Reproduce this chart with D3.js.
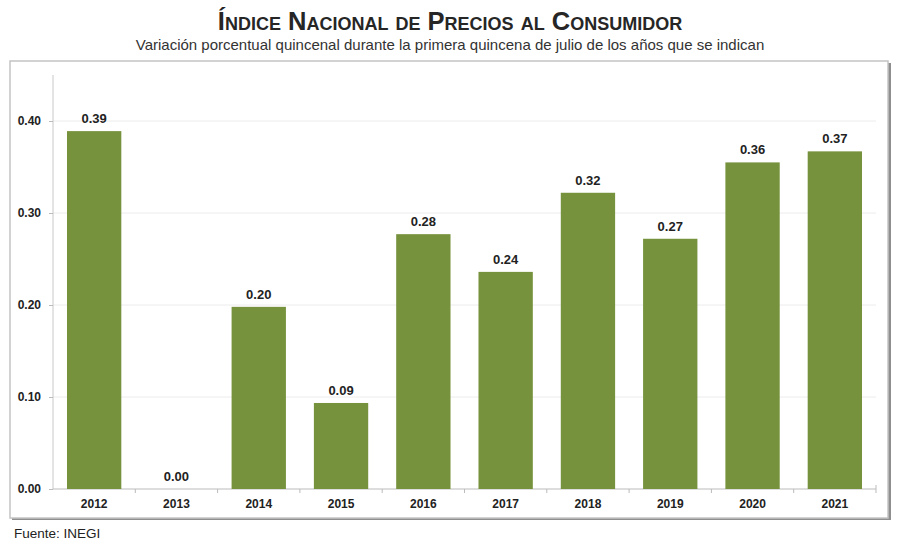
<!DOCTYPE html>
<html><head><meta charset="utf-8">
<script src="https://cdn.jsdelivr.net/npm/d3@7"></script>
<style>body{margin:0;background:#fff;font-family:"Liberation Sans",Arial,sans-serif;}</style>
</head><body><svg id="c" width="900" height="549"></svg>
<script>
const years = ["2012","2013","2014","2015","2016","2017","2018","2019","2020","2021"];
const values = [0.39,0.00,0.20,0.09,0.28,0.24,0.32,0.27,0.36,0.37];
const heights = [0.389,0.0,0.198,0.0935,0.277,0.236,0.322,0.272,0.355,0.367];
const yTicks = [0,0.1,0.2,0.3,0.4];

const svg = d3.select("#c");
const W=900,H=549;
svg.append("rect").attr("width",W).attr("height",H).attr("fill","#fff");

// frame with shadow
svg.append("rect").attr("x",12).attr("y",63).attr("width",879).attr("height",457).attr("fill","#8f8f8f");
svg.append("rect").attr("x",10).attr("y",61).attr("width",878).attr("height",457).attr("fill","#fff").attr("stroke","#c4c4c4").attr("stroke-width",1.5);

const x = d3.scaleBand().domain(years).range([53,876]).paddingInner(0.34).paddingOuter(0.17);
const y = d3.scaleLinear().domain([0,0.45]).range([489,75]);

// gridlines
svg.append("g").selectAll("line").data(yTicks.filter(d=>d>0)).join("line")
  .attr("x1",53).attr("x2",876).attr("y1",d=>y(d)).attr("y2",d=>y(d))
  .attr("stroke","#ececec").attr("stroke-width",1);

// y axis
const ya = svg.append("g").attr("transform","translate(53,0)")
  .call(d3.axisLeft(y).tickValues(yTicks).tickFormat(d3.format(".2f")).tickSize(4).tickPadding(8));
ya.select(".domain").attr("stroke","#c8c8c8").attr("d","M0,75V489");
ya.selectAll(".tick line").attr("stroke","#bbb");
ya.selectAll("text").attr("font-family","Liberation Sans, Arial").attr("font-size",12).attr("font-weight","bold").attr("fill","#222");

// x axis
const xa = svg.append("g").attr("transform","translate(0,489)")
  .call(d3.axisBottom(x).tickSize(0).tickPadding(8));
xa.select(".domain").attr("stroke","#bbb").attr("d","M53,0H876");
xa.selectAll("text").attr("font-family","Liberation Sans, Arial").attr("font-size",12).attr("font-weight","bold").attr("fill","#222").attr("dy","0.9em");
// category separator ticks
const step = x.step();
const seps = years.slice(1).map(d=>x(d)-x.paddingInner()*step/2);
svg.append("g").selectAll("line").data(seps).join("line")
  .attr("x1",d=>d).attr("x2",d=>d)
  .attr("y1",489).attr("y2",493).attr("stroke","#bbb");
svg.append("line").attr("x1",876).attr("x2",876).attr("y1",485).attr("y2",493).attr("stroke","#bbb");

// bars
svg.append("g").selectAll("rect").data(years).join("rect")
  .attr("x",d=>x(d)).attr("width",x.bandwidth())
  .attr("y",(d,i)=>y(heights[i])).attr("height",(d,i)=>y(0)-y(heights[i]))
  .attr("fill","#76923c");

// labels
svg.append("g").selectAll("text").data(years).join("text")
  .attr("x",d=>x(d)+x.bandwidth()/2).attr("y",(d,i)=>y(heights[i])-8)
  .attr("text-anchor","middle").attr("font-size",13).attr("font-weight","bold").attr("fill","#222")
  .text((d,i)=>d3.format(".2f")(values[i]));

// title
svg.append("text").attr("x",450).attr("y",30).attr("text-anchor","middle")
  .attr("font-size",25.5).attr("font-weight","bold").attr("fill","#262626")
  .style("font-variant","small-caps").text("Índice Nacional de Precios al Consumidor");
svg.append("text").attr("x",450).attr("y",50).attr("text-anchor","middle")
  .attr("font-size",15).attr("fill","#333")
  .text("Variación porcentual quincenal durante la primera quincena de julio de los años que se indican");
svg.append("text").attr("x",14).attr("y",538).attr("font-size",13.5).attr("fill","#222").text("Fuente: INEGI");
</script></body></html>
